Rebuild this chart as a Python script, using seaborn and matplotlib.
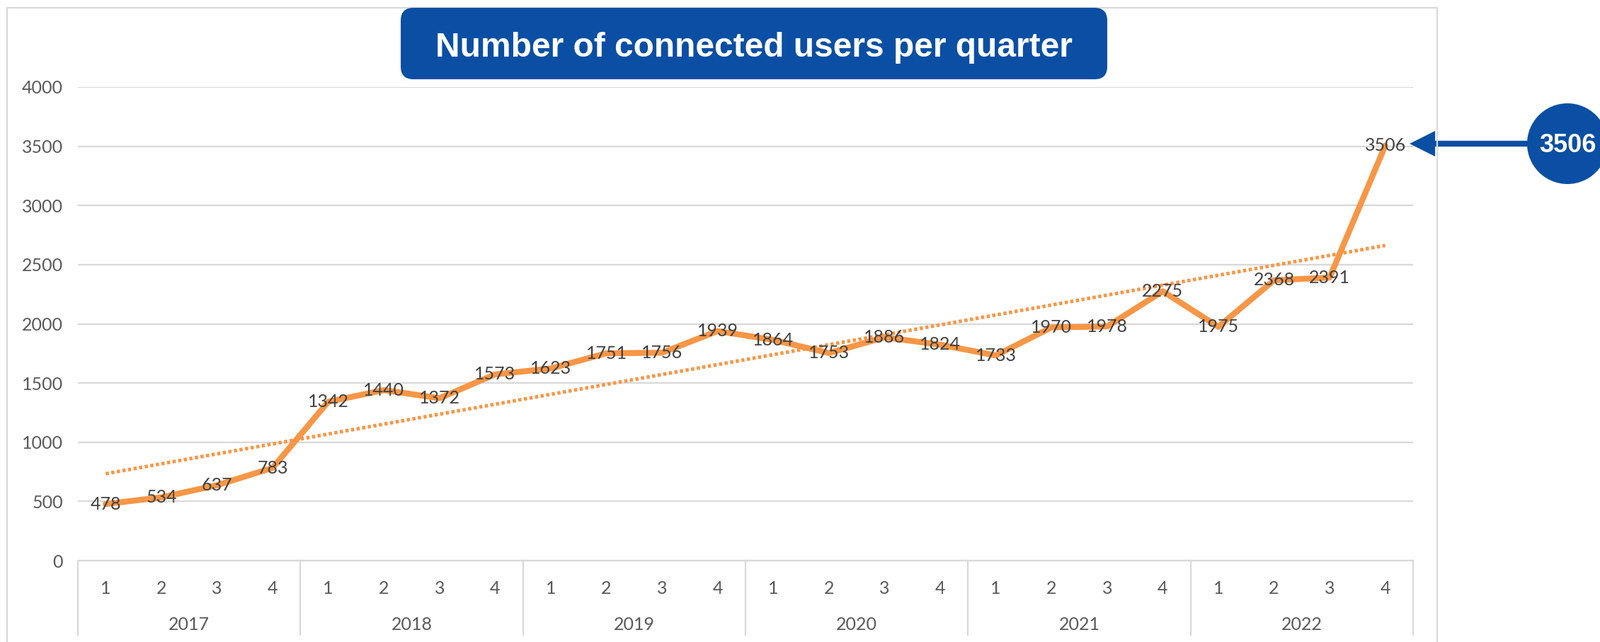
import numpy as np
import matplotlib
matplotlib.use("Agg")
import matplotlib.pyplot as plt
import seaborn as sns
from matplotlib.patches import FancyBboxPatch, Ellipse, Rectangle
from matplotlib.transforms import IdentityTransform

# data
years = ["2017", "2018", "2019", "2020", "2021", "2022"]
quarters = ["1", "2", "3", "4"]
users = [478, 534, 637, 783, 1342, 1440, 1372, 1573, 1623, 1751, 1756, 1939,
         1864, 1753, 1886, 1824, 1733, 1970, 1978, 2275, 1975, 2368, 2391, 3506]
title = "Number of connected users per quarter"

orange = "#f79646"
blue = "#0a4fa3"
grid_c = "#d9d9d9"
tick_c = "#595959"
label_c = "#404040"

sns.set_style("white")
plt.rcParams["font.family"] = ["Lato", "DejaVu Sans"]

W, H = 2260, 907
fig = plt.figure(figsize=(W / 100, H / 100), dpi=100)
px = IdentityTransform()

# axes placement (pixel measured)
left, right, top, bottom = 110, 1996, 123, 792
ax = fig.add_axes([left / W, (H - bottom) / H, (right - left) / W, (bottom - top) / H])

idx = np.arange(len(users))
sns.regplot(x=idx, y=users, ax=ax, scatter=False, ci=None, truncate=True,
            line_kws=dict(color=orange, lw=3.6, linestyle=(0, (0.9, 0.7)), zorder=2))
sns.lineplot(x=idx, y=users, ax=ax, color=orange, lw=6, zorder=3,
             solid_joinstyle="round", solid_capstyle="round")

for i, v in enumerate(users):
    ax.text(i, v, str(v), ha="center", va="center", fontsize=18, color=label_c, zorder=4)

ax.set_xlim(-0.5, len(users) - 0.5)
ax.set_ylim(0, 4000)
ax.set_yticks(np.arange(0, 4001, 500))
ax.yaxis.grid(True, color=grid_c, lw=1.6)
ax.set_axisbelow(True)
ax.set_xticks(idx, quarters * len(years))
ax.tick_params(axis="both", length=0, labelsize=18, labelcolor=tick_c)
ax.tick_params(axis="y", pad=15)
ax.tick_params(axis="x", pad=20)
ax.set_xlabel("")
ax.set_ylabel("")
for s in ["left", "right", "top"]:
    ax.spines[s].set_visible(False)
ax.spines["bottom"].set_color(grid_c)
ax.spines["bottom"].set_linewidth(1.6)

# year groups
tr = ax.get_xaxis_transform()
seps = np.arange(-0.5, len(users), 4)
ax.vlines(seps, -0.158, 0, transform=tr, colors=grid_c, lw=1.6, clip_on=False)
for k, y in enumerate(years):
    ax.text(1.5 + 4 * k, -0.135, y, transform=tr, ha="center", va="center",
            fontsize=18, color=tick_c)

# outer border
fig.add_artist(Rectangle((10, -10), 2020, 907 - 11 + 10, transform=px,
                         fill=False, ec=grid_c, lw=1.6))

# title box
fig.add_artist(FancyBboxPatch((566, H - 112), 998, 101, transform=px,
                              boxstyle="round,pad=0,rounding_size=18",
                              fc=blue, ec="none"))
fig.text(1065, H - 80, title, transform=px, ha="center", va="baseline",
         fontsize=34.5, fontweight="bold", color="white", family="Liberation Sans")

# callout circle + arrow
cy = H - 203
fig.add_artist(Ellipse((2214, cy), 114, 114, transform=px, fc=blue, ec="none", zorder=5))
fig.text(2214, cy - 12, str(users[-1]), transform=px, ha="center", va="baseline",
         fontsize=26, fontweight="bold", color="white", family="Liberation Sans", zorder=6)
ax.annotate("", xy=(1991, cy), xytext=(2180, cy), xycoords=px, textcoords=px,
            arrowprops=dict(arrowstyle="simple,head_length=2.6,head_width=2.6,tail_width=0.6",
                            mutation_scale=10, fc=blue, ec="none", shrinkA=0, shrinkB=0),
            annotation_clip=False, zorder=4)

fig.savefig("out.png", dpi=100)
